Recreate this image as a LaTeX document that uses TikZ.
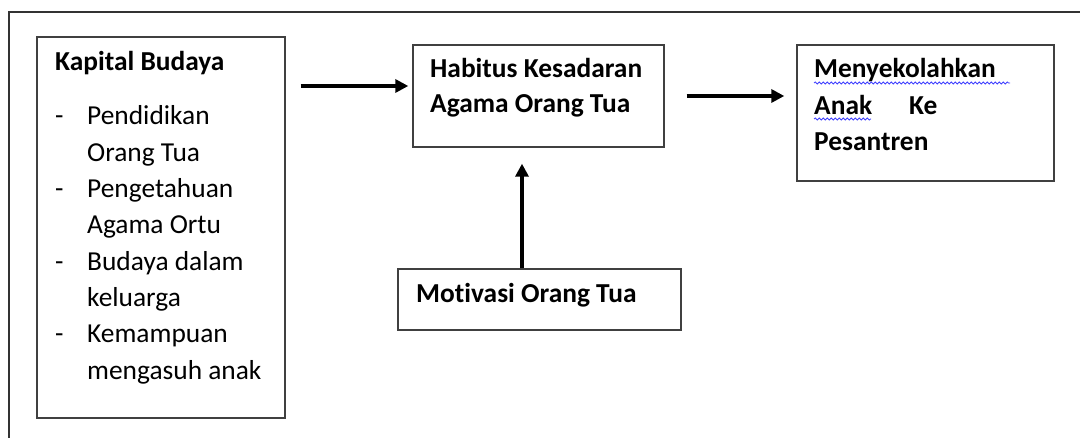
\documentclass[tikz,border=0pt]{standalone}
\usepackage{fontspec}
\setmainfont{Carlito}[Ligatures=NoCommon]
\usetikzlibrary{arrows.meta,decorations.pathmorphing}

\tikzset{
  frame/.style={draw=black!80, line width=1.3pt},
  box/.style={draw=black!75, line width=1.4pt, inner sep=0pt},
  txt/.style={anchor=base west, inner sep=0pt, font=\fontsize{27.4}{36.3}\selectfont},
  arrow/.style={line width=3.2pt, -{Triangle[length=13pt,width=13pt]}},
  squiggle/.style={draw=blue!75, line width=0.8pt, decorate,
    decoration={snake, segment length=4pt, amplitude=1pt}}
}

\begin{document}
\begin{tikzpicture}[x=1pt,y=-1pt]
  \useasboundingbox (0,0) rectangle (1080,438);

  % outer frame
  \draw[frame] (9,438) -- (9,12) -- (1080,12);

  % boxes
  \node[box, minimum width=248, minimum height=381] (kapital)  at (161,227.5) {};
  \node[box, minimum width=251, minimum height=102] (habitus)  at (538.5,96)  {};
  \node[box, minimum width=283, minimum height=61]  (motivasi) at (539.5,299.5) {};
  \node[box, minimum width=257, minimum height=136] (sekolah)  at (925.5,113) {};

  % texts
  \node[txt] (kapitalT) at (55,71) {\begin{tabular}[t]{@{}l@{}l@{}}
      \multicolumn{2}{@{}l@{}}{\bfseries Kapital Budaya}\\[17.7pt]
      \makebox[32pt][l]{-} & Pendidikan\\
                           & Orang Tua\\
      \makebox[32pt][l]{-} & Pengetahuan\\
                           & Agama Ortu\\
      \makebox[32pt][l]{-} & Budaya dalam\\
                           & keluarga\\
      \makebox[32pt][l]{-} & Kemampuan\\
                           & mengasuh anak
    \end{tabular}};
  \node[txt, font=\fontsize{27.4}{35}\selectfont\bfseries] (habitusT) at (430,78)
    {\begin{tabular}[t]{@{}l@{}}Habitus Kesadaran\\ Agama Orang Tua\end{tabular}};
  \node[txt, font=\fontsize{27.4}{36.3}\selectfont\bfseries] (motivasiT) at (416,303)
    {Motivasi Orang Tua};
  \node[txt, font=\fontsize{27.4}{36.5}\selectfont\bfseries] (sekolahT) at (814,78)
    {\begin{tabular}[t]{@{}l@{}}Menyekolahkan\\ \makebox[95pt][l]{Anak}Ke\\ Pesantren\end{tabular}};

  % spelling marks
  \draw[squiggle] ([yshift=-5pt]sekolahT.base west) -- ++(196,0);
  \draw[squiggle] ([yshift=-41pt]sekolahT.base west) -- ++(57,0);

  % arrows
  \path ([yshift=10pt]habitus.west) coordinate (in1);
  \draw[arrow, shorten <=15pt, shorten >=4pt] (kapital.east |- in1) -- (in1);
  \draw[arrow, shorten <=22pt, shorten >=12pt] (habitus.east) -- (sekolah.west |- habitus.east);
  \path ([xshift=-17.5pt]motivasi.north) coordinate (out1);
  \draw[arrow, shorten >=16pt] (out1) -- (out1 |- habitus.south);
\end{tikzpicture}
\end{document}
